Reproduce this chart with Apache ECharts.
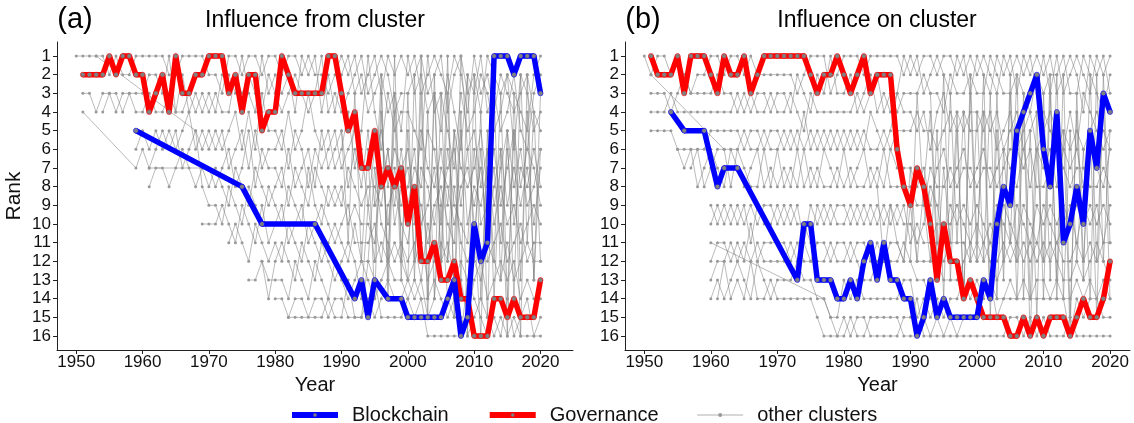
<!DOCTYPE html>
<html><head><meta charset="utf-8">
<script src="https://cdn.jsdelivr.net/npm/echarts@6/dist/echarts.min.js"></script>
<style>html,body{margin:0;padding:0;background:#fff}#c{width:1134px;height:423px}</style>
</head><body><div id="c"></div>
<script>
const _ = null;
const YEARS = [1950,1951,1952,1953,1954,1955,1956,1957,1958,1959,
1960,1961,1962,1963,1964,1965,1966,1967,1968,1969,
1970,1971,1972,1973,1974,1975,1976,1977,1978,1979,
1980,1981,1982,1983,1984,1985,1986,1987,1988,1989,
1990,1991,1992,1993,1994,1995,1996,1997,1998,1999,
2000,2001,2002,2003,2004,2005,2006,2007,2008,2009,
2010,2011,2012,2013,2014,2015,2016,2017,2018,2019,2020];
const YEAR_TICKS = [1950,1960,1970,1980,1990,2000,2010,2020];
const RANK_TICKS = [1,2,3,4,5,6,7,8,9,10,11,12,13,14,15,16];
const TITLES = ['Influence from cluster','Influence on cluster'];
const PANEL_TAGS = ['(a)','(b)'];

// Panel (a): Influence from cluster
const govA = [_,2,2,2,2,1,2,1,1,2, 2,4,3,2,4,1,3,3,2,2, 1,1,1,3,2,4,2,2,5,4, 4,1,2,3,3,3,3,3,1,1, 3,5,4,7,7,5,8,7,8,7, 10,8,12,12,11,13,13,12,14,14, 16,16,16,14,14,15,14,15,15,15, 13];
const blockA = [_,_,_,_,_,_,_,_,_,5, _,_,_,_,_,_,_,_,_,_, _,_,_,_,_,8,_,_,10,_, _,_,_,_,_,_,10,_,_,_, _,_,14,13,15,13,_,14,_,14, 15,15,15,15,15,15,14,13,16,15, 10,12,11,1,1,1,2,1,1,1, 3];
const otherA = [
[1,1,1,1,1,2,1,2,2,1, 1,1,1,1,2,2,1,1,1,1, 2,2,3,1,1,2,1,1,2,1, 1,2,1,1,2,1,2,2,3,2, 1,2,1,3,2,1,3,1,2,1, 2,1,3,2,1,2,3,1,2,4, 1,3,2,4,2,3,4,3,2,4, 5],
[_,3,3,4,3,3,3,4,3,3, 3,2,2,3,1,4,2,4,3,4, 3,4,2,2,3,1,3,4,1,3, 2,3,2,4,1,2,1,4,2,4, 2,1,3,2,4,3,2,4,3,5, 1,3,2,4,3,5,2,4,6,2, 3,1,4,3,5,4,2,5,6,3, 2],
[_,4,_,_,_,_,_,_,_,7, 6,7,6,5,6,5,7,6,5,6, 5,6,5,7,6,5,7,5,7,6, 6,5,7,5,6,8,6,7,6,5, 7,6,5,6,9,6,5,8,6,7, 6,9,5,7,8,6,9,5,7,8, 7,5,8,6,9,7,5,8,6,7, 9],
[_,_,_,_,4,3,4,3,3,4, 4,3,4,4,3,4,4,3,4,3, 4,3,4,4,2,3,2,3,4,2, 3,4,3,2,3,4,3,1,4,3, 4,3,2,1,3,2,1,2,4,3, 3,2,1,3,2,1,4,2,1,3, 2,4,1,2,3,2,3,4,5,2, 1],
[_,_,_,_,_,_,_,_,_,6, 5,6,5,6,5,6,5,4,6,5, 6,5,6,5,4,6,4,6,3,5, 5,6,4,6,5,3,5,6,5,7, 6,4,7,5,1,4,6,3,5,4, 4,5,6,1,4,3,5,7,3,5, 4,2,3,5,4,2,6,2,3,5, 4],
[_,_,_,_,_,_,_,_,_,_, _,8,7,7,8,7,6,7,8,7, 7,8,7,6,8,7,5,8,6,7, 7,8,6,8,7,6,8,5,7,6, 5,8,6,8,5,9,8,6,9,6, 9,7,8,5,6,9,7,6,9,6, 5,8,6,9,7,5,8,6,9,8, 6],
[_,_,_,_,_,_,_,_,_,_, _,7,_,_,_,_,_,_,_,7, 8,7,8,9,7,8,9,7,8,9, 8,7,9,7,8,9,7,8,9,8, 9,7,8,9,8,8,9,6,10,8, 7,10,7,8,10,7,8,10,8,7, 9,7,10,8,6,9,7,9,7,10, 7],
[_,_,_,1,_,_,_,_,_,_, _,_,_,_,_,_,_,_,5,8, 9,9,10,8,9,10,8,9,10,8, 9,10,8,9,10,7,9,10,8,9, 8,10,9,10,10,11,7,10,7,9, 8,6,10,9,7,10,6,9,10,11, 6,10,9,7,11,6,10,7,8,6, 8],
[_,_,_,_,_,_,_,_,_,_, _,_,_,_,_,_,_,_,_,10, 10,10,9,10,11,9,10,11,9,11, 10,9,11,10,9,11,10,9,10,11, 10,9,11,11,11,10,12,9,8,10, 11,8,9,11,9,8,10,11,5,10, 8,9,7,10,8,10,9,11,10,9, 10],
[_,_,_,_,_,_,_,_,_,_, _,_,_,_,_,_,_,_,_,_, _,_,_,11,10,11,12,10,11,12, 11,12,10,11,12,10,11,12,11,10, 11,12,10,12,12,7,10,11,12,11, 12,11,13,10,12,11,12,8,11,12, 11,6,12,11,10,12,11,10,12,11, 11],
[_,_,_,_,_,_,_,_,_,_, _,_,_,_,_,_,_,_,_,_, _,_,_,_,_,_,13,13,12,14, 12,11,12,13,11,12,13,11,12,13, 12,11,12,14,9,12,11,12,11,12, 13,12,11,13,12,12,11,13,12,13, 12,13,11,12,13,11,13,12,11,12, 12],
[_,_,_,_,_,_,_,_,_,_, _,_,_,_,_,_,_,_,_,_, _,_,_,_,_,_,_,_,12,13, 13,13,14,12,13,14,12,13,14,12, 13,14,13,12,13,14,13,12,13,13, 14,13,14,14,13,14,15,14,13,15, 13,12,14,13,12,13,12,14,13,14, 14],
[_,_,_,_,_,_,_,_,_,_, _,_,_,_,_,_,_,_,_,_, _,_,_,_,_,_,_,_,_,_, 14,14,15,14,14,15,14,14,15,14, 14,15,15,15,14,15,14,13,14,14, 13,14,13,15,14,9,14,15,15,16, 15,14,15,16,15,16,15,16,16,16, 15],
[_,_,_,_,_,_,_,_,_,_, _,_,_,_,_,_,_,_,_,_, _,_,_,_,_,_,_,_,_,_, _,_,15,15,15,_,15,15,14,15, 15,13,15,15,12,13,15,15,15,15, 14,15,14,16,16,16,16,16,16,13, 14,15,16,15,16,14,16,15,14,16, 16],
[_,_,_,_,_,_,_,_,_,_, _,_,_,_,_,_,_,_,_,_, _,_,_,_,_,_,_,_,_,_, _,_,_,_,_,_,_,_,_,_, _,_,_,_,_,12,3,13,1,12, 5,12,3,15,2,13,3,14,1,6, 10,16,5,14,6,16,3,13,4,13, 6],
[_,_,_,_,_,_,_,_,_,_, _,_,_,_,_,_,_,_,_,_, _,_,_,_,_,_,_,_,_,_, _,_,_,_,_,_,_,_,_,_, 5,11,3,12,6,14,4,12,3,11, 13,2,11,4,14,3,12,5,13,2, 12,4,15,3,13,5,14,2,11,4, 12],
[_,_,_,_,_,_,_,_,_,_, _,_,_,_,_,_,_,_,_,_, _,_,_,_,_,_,_,_,_,_, _,_,_,_,_,_,_,_,_,_, _,_,_,_,_,9,2,14,4,13, 3,13,1,14,3,12,1,15,4,16, 2,14,6,12,3,14,5,16,2,13, 3]
];

// Panel (b): Influence on cluster
const govB = [_,1,2,2,2,1,3,1,1,1, 2,3,1,2,2,1,3,2,1,1, 1,1,1,1,1,2,3,2,2,1, 2,3,2,1,3,2,2,2,6,8, 9,7,8,10,13,10,12,12,14,13, 14,15,15,15,15,16,16,15,16,15, 16,15,15,15,16,15,14,15,15,14, 12];
const blockB = [_,_,_,_,4,_,5,_,_,5, _,8,7,_,7,_,_,_,_,_, _,_,_,13,10,10,13,13,13,14, 14,13,14,12,11,13,11,13,13,14, 14,16,15,13,15,14,15,15,15,15, 15,13,14,10,8,9,5,4,3,2, 6,8,4,11,10,8,10,5,7,3, 4];
const otherB = [
[1,2,1,1,2,1,2,3,2,2, 1,1,2,1,1,2,1,2,2,2, 2,2,2,3,2,1,1,1,3,2, 1,1,1,2,1,1,1,1,1,2, 1,2,1,1,2,1,1,2,1,3, 1,2,3,1,2,1,3,1,2,1, 2,1,3,2,1,2,4,1,2,1, 3],
[_,3,3,3,4,3,2,3,3,3, 3,2,3,3,4,3,4,3,3,4, 3,3,4,2,3,4,2,3,1,3, 3,2,4,3,2,4,3,4,3,1, 2,1,3,2,1,2,3,1,2,1, 2,1,2,3,1,2,1,2,1,3, 1,3,1,3,2,1,2,3,1,2, 1],
[_,4,4,4,3,4,4,4,4,4, 4,4,4,4,3,4,3,4,4,3, 4,4,3,4,5,3,4,4,4,4, 4,4,3,4,3,2,4,3,4,3, 3,3,2,3,3,4,2,3,3,2, 3,3,1,2,3,3,2,3,4,2, 3,2,2,1,3,3,1,2,3,4, 2],
[_,5,5,5,5,6,6,6,6,6, 5,5,5,5,5,6,5,5,6,5, 5,6,5,6,4,6,5,6,5,6, 5,6,5,6,4,5,6,5,3,4, 4,5,4,6,4,3,5,4,5,4, 4,5,4,6,5,4,6,5,4,6, 5,4,5,6,4,6,3,4,5,6, 5],
[_,2,_,_,_,_,_,_,_,_, _,_,6,6,6,5,6,6,5,6, 6,5,6,5,6,5,6,5,6,5, 6,5,6,5,6,6,5,6,5,5, 5,4,5,5,6,5,4,5,4,5, 5,4,5,4,6,5,4,6,5,4, 4,5,6,5,6,5,6,5,4,5, 6],
[_,_,_,_,_,6,7,6,8,7, 6,7,8,6,7,8,7,6,8,7, 8,7,8,6,8,7,8,6,7,8, 6,8,7,6,8,7,8,6,7,7, 7,8,7,9,7,6,8,7,6,8, 7,6,8,7,6,7,8,6,8,6, 7,6,8,6,7,6,8,6,7,8, 6],
[_,_,_,_,_,_,_,7,6,8, 7,6,6,8,6,7,8,8,6,8, 6,8,7,8,6,8,7,8,8,7, 8,7,8,8,7,8,6,8,8,8, 8,9,9,7,8,8,7,8,7,7, 8,7,7,8,7,6,6,7,6,8, 8,7,6,7,8,7,7,8,8,7, 8],
[_,_,_,_,_,_,_,_,_,_, 9,10,9,10,9,10,9,10,9,9, 10,9,10,9,11,9,10,9,10,9, 9,10,9,10,9,10,9,10,9,10, 10,11,10,8,9,11,9,10,9,10, 9,10,11,9,10,11,9,10,11,9, 10,9,10,9,10,9,10,9,10,9, 10],
[_,_,_,_,_,_,_,_,_,_, 10,9,10,9,10,9,11,9,10,10, 9,10,9,10,10,11,9,10,9,10, 10,9,10,9,10,9,10,9,10,9, 11,10,11,11,10,10,10,9,10,11, 10,11,10,11,9,10,11,9,10,11, 9,10,11,10,9,11,9,10,9,11, 9],
[_,_,_,_,_,_,_,_,_,_, 11,_,_,_,_,_,_,_,_,_, _,_,_,_,_,_,_,14,15,16, 15,16,15,15,16,16,16,16,16,15, 15,14,16,16,16,16,16,16,16,16, 16,16,16,16,16,15,15,16,15,16, 15,16,16,16,15,16,16,16,16,16, 16],
[_,_,_,_,_,_,_,_,_,_, 12,11,11,12,11,12,10,12,11,11, 11,11,12,11,12,12,11,11,12,11, 11,12,11,11,12,11,12,11,11,12, 9,12,12,12,11,12,11,11,11,12, 11,12,11,12,11,12,11,12,11,12, 11,12,11,12,12,11,12,11,12,11, 11],
[_,_,_,_,_,_,_,_,_,_, 13,12,12,11,12,11,12,11,12,12, 12,12,11,12,11,12,12,12,11,12, 12,11,12,13,13,12,12,12,12,11, 12,13,13,14,12,13,13,13,12,11, 12,11,12,13,12,11,12,11,12,11, 12,11,12,13,13,12,13,12,11,12, 13],
[_,_,_,_,_,_,_,_,_,_, 14,13,14,13,12,13,14,12,13,14, 13,13,13,12,13,13,14,14,15,15, 13,14,13,14,14,14,14,14,14,13, 13,15,14,15,14,15,14,14,13,14, 13,14,13,14,14,13,14,13,14,13, 13,14,13,14,14,13,14,13,14,13, 14],
[_,_,_,_,_,_,_,_,_,_, _,14,12,14,13,14,12,14,14,13, 14,14,14,14,14,14,15,16,16,16, 16,15,16,16,15,15,15,15,15,16, 16,16,15,16,15,16,15,16,15,15, 15,13,13,15,14,14,14,14,14,14, 14,14,14,14,16,14,15,14,14,15, 15],
[_,_,_,_,_,_,_,_,_,_, _,_,_,_,_,_,_,_,_,_, _,_,_,_,_,_,_,_,_,_, _,_,_,_,_,8,12,9,11,12, 7,12,8,4,12,7,11,4,14,2, 11,4,15,5,12,3,14,4,16,6, 12,2,14,5,16,3,12,5,15,2, 11],
[_,_,_,_,_,_,_,_,_,_, _,_,_,_,_,_,_,_,_,_, _,_,_,_,_,_,_,_,_,_, _,_,_,_,_,_,_,_,_,_, 12,3,9,12,5,14,3,11,4,12, 4,12,3,14,6,11,2,14,5,15, 3,13,2,14,5,12,6,14,2,12, 5],
[_,_,_,_,_,_,_,_,_,_, _,_,_,_,_,_,_,_,_,_, _,_,_,_,_,_,_,_,_,_, _,_,_,_,_,_,_,_,_,_, _,_,_,3,11,2,13,5,14,3, 12,2,14,3,13,2,12,3,14,4, 14,3,13,2,15,4,13,2,12,3, 14]
];

function pts(vals){ return YEARS.map((y,i)=>[y, vals[i]]).filter(p=>p[1]!==null); }

const FONT = 'Liberation Sans';
const chart = echarts.init(document.getElementById('c'), null, {renderer:'canvas'});
const grids = [{left:57, top:42, width:516, height:308},{left:625, top:42, width:505, height:308}];
const xRanges = [[1947.1, 2024.9],[1947.1, 2023.0]];

const xAxes = [0,1].map(i=>({
  type:'value', gridIndex:i, min:xRanges[i][0], max:xRanges[i][1],
  axisLine:{show:true, lineStyle:{color:'#222', width:1}},
  axisTick:{show:true, customValues:YEAR_TICKS, length:4, lineStyle:{color:'#222'}},
  axisLabel:{show:true, customValues:YEAR_TICKS, formatter:v=>String(v), fontSize:17, color:'#111', margin:4, fontFamily:FONT},
  splitLine:{show:false},
  name:'Year', nameLocation:'middle', nameGap:22,
  nameTextStyle:{fontSize:20, color:'#111', fontFamily:FONT}
}));
const yAxes = [0,1].map(i=>({
  type:'value', gridIndex:i, inverse:true, min:0.25, max:16.75,
  axisLine:{show:true, lineStyle:{color:'#222', width:1}},
  axisTick:{show:true, customValues:RANK_TICKS, length:4, lineStyle:{color:'#222'}},
  axisLabel:{show:true, customValues:RANK_TICKS, formatter:v=>String(v), fontSize:17, color:'#111', margin:6, fontFamily:FONT},
  splitLine:{show:false},
  name: i===0 ? 'Rank' : '', nameLocation:'middle', nameGap:32, nameRotate:90,
  nameTextStyle:{fontSize:21, color:'#111', fontFamily:FONT}
}));

const series = [];
[otherA, otherB].forEach((groups, gi)=>{
  groups.forEach(vals=>{
    series.push({
      type:'line', name:'other clusters', xAxisIndex:gi, yAxisIndex:gi,
      data:pts(vals), symbol:'circle', symbolSize:3, showSymbol:true,
      lineStyle:{color:'rgba(115,115,115,0.62)', width:0.8},
      itemStyle:{color:'#999999'}, z:2, silent:true
    });
  });
});
[[govA, blockA],[govB, blockB]].forEach((pair, gi)=>{
  series.push({
    type:'line', name:'Governance', xAxisIndex:gi, yAxisIndex:gi, data:pts(pair[0]),
    symbol:'circle', symbolSize:5, showSymbol:true,
    lineStyle:{color:'#ff0000', width:5.5}, itemStyle:{color:'#808080', borderColor:'#ff0000', borderWidth:0.6},
    z:4, silent:true
  });
  series.push({
    type:'line', name:'Blockchain', xAxisIndex:gi, yAxisIndex:gi, data:pts(pair[1]),
    symbol:'circle', symbolSize:5, showSymbol:true,
    lineStyle:{color:'#0000ff', width:5.5}, itemStyle:{color:'#808080', borderColor:'#0000ff', borderWidth:0.6},
    z:5, silent:true
  });
});

function txt(t, x, y, size){
  return {type:'text', x:x, y:y, silent:true,
    style:{text:t, fontSize:size, fontFamily:FONT, fill:'#000',
      textAlign:'center', textVerticalAlign:'middle', align:'center', verticalAlign:'middle'}};
}

chart.setOption({
  animation:false,
  backgroundColor:'#fff',
  grid:grids, xAxis:xAxes, yAxis:yAxes, series:series,
  legend:{
    data:[
      {name:'Blockchain', lineStyle:{width:6, color:'#0000ff'}, itemStyle:{color:'#808080', borderColor:'#0000ff', borderWidth:0.5}},
      {name:'Governance', lineStyle:{width:6, color:'#ff0000'}, itemStyle:{color:'#808080', borderColor:'#ff0000', borderWidth:0.5}},
      {name:'other clusters', lineStyle:{width:1, color:'#b0b0b0'}, itemStyle:{color:'#9a9a9a', borderWidth:0}}
    ],
    left:284, top:400, itemWidth:46, itemHeight:5, itemGap:38,
    textStyle:{fontSize:20, color:'#111', fontFamily:FONT, padding:[0,0,0,9]},
    selectedMode:false
  },
  graphic:[
    txt(PANEL_TAGS[0], 75, 20, 29),
    txt(TITLES[0], 315, 21, 23),
    txt(PANEL_TAGS[1], 643, 20, 29),
    txt(TITLES[1], 877, 21, 23)
  ]
});
</script></body></html>
